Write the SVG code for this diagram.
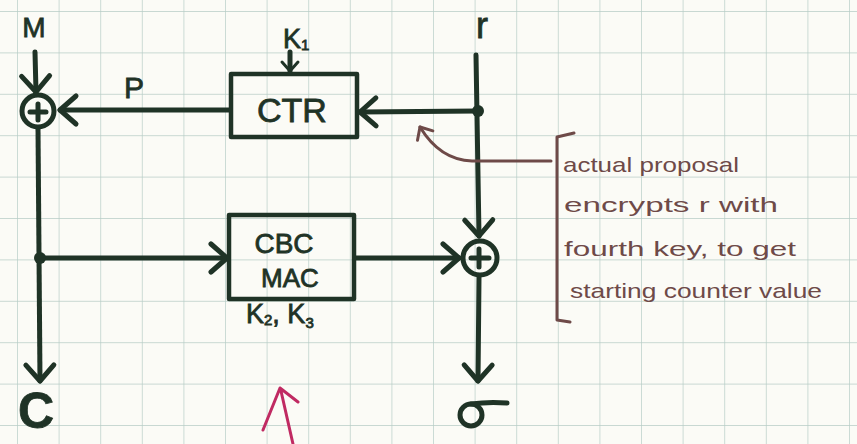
<svg xmlns="http://www.w3.org/2000/svg" width="857" height="444" viewBox="0 0 857 444">
<style>
.ink{stroke:#1f3326;stroke-width:5;fill:none;stroke-linecap:round;stroke-linejoin:round}
.box{stroke:#1f3326;stroke-width:4.5;fill:none;stroke-linejoin:round}
.lbl{font-family:"Liberation Sans",Arial,sans-serif;fill:#1f3326;stroke:#1f3326;stroke-width:0.8}
.note{font-family:"Liberation Sans",Arial,sans-serif;fill:#6e4a48;font-size:21px}
.brown{stroke:#6e4a48;stroke-width:3;fill:none;stroke-linecap:round;stroke-linejoin:round}
</style>
<defs>
<pattern id="grid" patternUnits="userSpaceOnUse" x="17" y="11" width="41.6" height="41.4">
<path d="M0 0 H41.6 M0 0 V41.4" stroke="#b7cdc6" stroke-width="1.4" fill="none"/>
</pattern>
<marker id="arr" markerUnits="userSpaceOnUse" viewBox="-22 -20 26 40" markerWidth="26" markerHeight="40" refX="0" refY="0" orient="auto">
<path d="M-16 -14 L0 0 L-16 14" stroke="#1f3326" stroke-width="5" fill="none" stroke-linecap="round" stroke-linejoin="round"/>
</marker>
<marker id="arrs" markerUnits="userSpaceOnUse" viewBox="-14 -12 18 24" markerWidth="18" markerHeight="24" refX="0" refY="0" orient="auto">
<path d="M-9 -8 L0 0 L-9 8" stroke="#1f3326" stroke-width="3" fill="none" stroke-linecap="round" stroke-linejoin="round"/>
</marker>
<marker id="arrb" markerUnits="userSpaceOnUse" viewBox="-14 -14 18 28" markerWidth="18" markerHeight="28" refX="0" refY="0" orient="auto">
<path d="M-10 -9 L0 0 L-10 9" stroke="#6e4a48" stroke-width="3" fill="none" stroke-linecap="round" stroke-linejoin="round"/>
</marker>
</defs>
<rect width="857" height="444" fill="#fbfbf6"/>
<rect width="857" height="444" fill="url(#grid)"/>

<g id="connectors">
<line class="ink" x1="35" y1="52" x2="36" y2="92" marker-end="url(#arr)"/>
<line class="ink" x1="230" y1="110" x2="60" y2="110" marker-end="url(#arr)"/>
<line class="ink" x1="290" y1="52" x2="290" y2="71" stroke-width="3" marker-end="url(#arrs)"/>
<line class="ink" x1="476" y1="55" x2="479" y2="236" marker-end="url(#arr)"/>
<line class="ink" x1="478" y1="111" x2="360" y2="112" marker-end="url(#arr)"/>
<line class="ink" x1="38" y1="128" x2="40" y2="381" marker-end="url(#arr)"/>
<line class="ink" x1="40" y1="258" x2="227" y2="258" marker-end="url(#arr)"/>
<line class="ink" x1="356" y1="258" x2="459" y2="258" marker-end="url(#arr)"/>
<line class="ink" x1="479" y1="277" x2="478" y2="381" marker-end="url(#arr)"/>
<circle cx="478" cy="111" r="6" fill="#1f3326"/>
<circle cx="40" cy="258" r="6" fill="#1f3326"/>
</g>

<g id="M"><text class="lbl" x="34" y="37" font-size="28" text-anchor="middle">M</text></g>
<g id="P"><text class="lbl" x="134" y="98" font-size="30" text-anchor="middle">P</text></g>
<g id="xor1">
<circle class="ink" cx="38" cy="111" r="16"/>
<path class="ink" d="M30 112 H46 M38 104 V120" stroke-width="3"/>
</g>
<g id="K1"><text class="lbl" x="283" y="48" font-size="27">K<tspan font-size="15" dy="2">1</tspan></text></g>
<g id="CTR">
<rect class="box" x="231" y="74" width="126" height="63"/>
<text class="lbl" x="292" y="122" font-size="34" text-anchor="middle">CTR</text>
</g>
<g id="r"><text class="lbl" x="482" y="38" font-size="36" text-anchor="middle">r</text></g>
<g id="CBCMAC">
<rect class="box" x="229" y="215" width="125" height="84"/>
<text class="lbl" x="284" y="253" font-size="28" text-anchor="middle">CBC</text>
<text class="lbl" x="290" y="287" font-size="26" text-anchor="middle">MAC</text>
</g>
<g id="K2K3"><text class="lbl" x="246" y="323" font-size="27">K<tspan font-size="15" dy="2">2</tspan><tspan dy="-2">, K</tspan><tspan font-size="15" dy="5">3</tspan></text></g>
<g id="xor2">
<circle class="ink" cx="480" cy="258" r="17"/>
<path class="ink" d="M471 258 H489 M479 249 V267" stroke-width="3"/>
</g>
<g id="C"><text class="lbl" x="36" y="428" font-size="50" font-weight="bold" text-anchor="middle" stroke-width="1.5">C</text></g>
<g id="sigma">
<circle class="ink" cx="471" cy="415" r="11" stroke-width="4"/>
<path class="ink" d="M471 404 C485 402 495 402 507 403" stroke-width="4"/>
</g>

<g id="annotation">
<path class="brown" d="M551 161 L472 161 Q440 160 420 127" marker-end="url(#arrb)"/>
<path class="brown" d="M574 133 L557 137 L557 320 L570 322"/>
<text class="note" x="563" y="172" textLength="176" lengthAdjust="spacingAndGlyphs">actual proposal</text>
<text class="note" x="564" y="212" textLength="214" lengthAdjust="spacingAndGlyphs">encrypts r with</text>
<text class="note" x="564" y="256" textLength="232" lengthAdjust="spacingAndGlyphs">fourth key, to get</text>
<text class="note" x="570" y="298" textLength="252" lengthAdjust="spacingAndGlyphs">starting counter value</text>
</g>

<g id="pink">
<path d="M263 430 L280 388 L298 402 M281 391 L293 444" stroke="#c02a62" stroke-width="3" fill="none" stroke-linecap="round" stroke-linejoin="round"/>
</g>
</svg>
